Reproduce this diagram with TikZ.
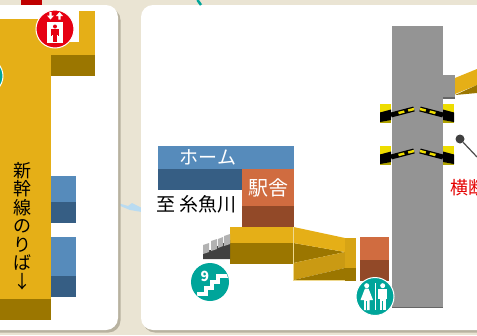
\documentclass[tikz,border=0pt]{standalone}
\usepackage{fontspec}
\setmainfont{Noto Sans CJK JP}
\definecolor{bg}{HTML}{EAE4D3}
\definecolor{shadow}{HTML}{B8B2A0}
\definecolor{gold}{HTML}{E5AF17}
\definecolor{golddk}{HTML}{9B7600}
\definecolor{goldmid}{HTML}{CA9A13}
\definecolor{goldedge}{HTML}{EFD98F}
\definecolor{bluel}{HTML}{568BBB}
\definecolor{blued}{HTML}{365E84}
\definecolor{orl}{HTML}{D06C40}
\definecolor{ord}{HTML}{924928}
\definecolor{grayp}{HTML}{949494}
\definecolor{grayd}{HTML}{666666}
\definecolor{teal}{HTML}{00A59A}
\definecolor{redm}{HTML}{E60012}
\definecolor{yel}{HTML}{EEDD00}
\definecolor{yeld}{HTML}{AFA200}
\definecolor{river}{HTML}{B9DBF1}
\tikzset{
  card/.style={fill=white,rounded corners=12pt},
  cardshadow/.style={fill=shadow,rounded corners=12pt},
  signcircle/.style={circle,draw=white,line width=1pt,minimum size=38pt,inner sep=0pt},
  barrier/.style={line width=5pt,draw=black},
  barrierdash/.style={line width=2.4pt,draw=yel,dash pattern=on 6pt off 4pt},
  lbl/.style={inner sep=0pt,text=black}
}
\begin{document}
\begin{tikzpicture}[x=1pt,y=-1pt]
\useasboundingbox (0,0) rectangle (477,335);
\clip (0,0) rectangle (477,335);
\fill[bg] (0,0) rectangle (477,335);
% river
\fill[river] (118,203) -- (128,206) -- (132,203) -- (142,208) -- (142,212) -- (130,210) -- (118,205) -- cycle;
% cards
\fill[cardshadow] (-20,8) rectangle (120.5,332.5);
\fill[cardshadow] (143,8) rectangle (500,332.5);
\fill[card] (-20,5) rectangle (118,330);
\fill[card] (141,5) rectangle (500,330);
% top stubs
\fill[red!75!black] (21,0) rectangle (42,5);
\draw[teal,line width=2.5pt] (197.5,0) -- (201,5);
% left panel: concourse
\fill[gold] (0,19) rectangle (51,299);
\fill[gold] (51,42) rectangle (95,55);
\fill[gold] (79,11) rectangle (95,55);
\fill[white] (51,19) rectangle (79,42);
\fill[golddk] (51,55) rectangle (95,76);
\fill[golddk] (0,299) rectangle (51,320);
% platforms left
\fill[bluel] (51,176) rectangle (76,202);
\fill[blued] (51,202) rectangle (76,223);
\fill[bluel] (51,237) rectangle (76,276);
\fill[blued] (51,276) rectangle (76,297);
% vertical label
\node[lbl,align=center,font=\fontsize{18}{18.5}\selectfont] (shinkansen) at (22,226) {新\\幹\\線\\の\\り\\ば\\↓};
% elevator sign
\node[signcircle,fill=redm] (elev) at (55,29) {};
\fill[white] (47,22) rectangle (63,43);
\fill[redm] (55,26.5) circle (2);
\fill[redm] (52,29) rectangle (58,35);
\fill[redm] (53,35) rectangle (57,42);
\fill[redm] (50.7,29) rectangle (51.8,36);
\fill[redm] (58.2,29) rectangle (59.3,36);
\fill[white] (50.5,19.5) -- (47,15.5) -- (49.3,15.5) -- (49.3,12) -- (51.7,12) -- (51.7,15.5) -- (54,15.5) -- cycle;
\fill[white] (59.5,12) -- (63,16) -- (60.7,16) -- (60.7,19.5) -- (58.3,19.5) -- (58.3,16) -- (56,16) -- cycle;
% teal sign cut off on left
\node[signcircle,fill=teal,minimum size=36pt] (lefts) at (-15,76) {};
% home / station
\fill[bluel] (158,146) rectangle (294,169);
\fill[blued] (158,169) rectangle (242,190);
\node[lbl,text=white,font=\fontsize{19}{19}\selectfont] (home) at (208,157) {ホーム};
\fill[orl] (242,169) rectangle (294,206);
\fill[ord] (242,206) rectangle (294,227);
\node[lbl,text=white,font=\fontsize{20}{20}\selectfont] (station) at (268,188) {駅舎};
\node[lbl,font=\fontsize{19}{19}\selectfont,anchor=west] (dest) at (156,204) {至 糸魚川};
% walkway and ramps
\fill[gold] (230,227) rectangle (294,243);
\fill[golddk] (230,243) rectangle (294,264);
\fill[golddk] (293.5,243) -- (345,252) -- (293.5,263) -- cycle;
\fill[gold] (293.5,227) -- (345,238) -- (345,252) -- (293.5,243) -- cycle;
\fill[goldmid] (293.5,263) -- (345,252) -- (345,268) -- (293.5,280) -- cycle;
\fill[golddk] (293.5,280) -- (345,268) -- (345,280.5) -- cycle;
\fill[goldmid!50!gold] (345,238) rectangle (356,268);
\fill[golddk] (345,268) rectangle (356,281);
\draw[goldedge,line width=.6pt] (293.5,227) -- (293.5,280.5) -- (345,280.5);
% steps
\fill[black!75] (203,259) -- (203,254) -- (209,250) -- (211,250) -- (217,246) -- (218,246) -- (223,243) -- (224,243) -- (230,240) -- (230,259) -- cycle;
\fill[black!30] (203,245) -- (209,243) -- (209,252) -- (203,254) -- cycle;
\fill[black!30] (211,241) -- (217,239) -- (217,249) -- (211,251) -- cycle;
\fill[black!30] (218,239) -- (223,237) -- (223,246) -- (218,248) -- cycle;
\fill[black!30] (224,236) -- (230,234) -- (230,244) -- (224,246) -- cycle;
% stairs sign
\node[signcircle,fill=teal,draw=none] (stairs) at (210,282) {};
\node[lbl,text=white,font=\fontsize{14}{14}\selectfont\bfseries] (nine) at (205,276.5) {9};
\begin{scope}
\clip (stairs) circle (18.5);
\draw[white,line width=3.4pt] (197,294) -- (206,294) -- (206,288) -- (212,288) -- (212,282) -- (218,282) -- (218,276) -- (230,276);
\end{scope}
% right small block
\fill[orl] (360,237) rectangle (389,260);
\fill[ord] (360,260) rectangle (389,281);
% gray tower
\fill[grayd] (392,26) rectangle (443,308);
\fill[grayp] (392,26) rectangle (443,306.5);
\fill[grayd] (443,75) rectangle (455,99);
\fill[grayp] (443,75) rectangle (455,97);
\fill[gold] (455,78) -- (477,69) -- (477,85) -- (455,94) -- cycle;
\fill[golddk] (477,85) -- (477,93) -- (455,95) -- cycle;
% gates
\foreach \yy in {0,42}{
  \fill[yel] (380,104+\yy) rectangle (391,112+\yy);
  \fill[yeld] (380,112+\yy) rectangle (391,123+\yy);
  \fill[black] (380,112.5+\yy) -- (391,109.5+\yy) -- (391,120+\yy) -- (380,122+\yy) -- cycle;
  \fill[yel] (443,104+\yy) rectangle (454,112+\yy);
  \fill[yeld] (443,112+\yy) rectangle (454,123+\yy);
  \fill[black] (443,109.5+\yy) -- (454,112.5+\yy) -- (454,122+\yy) -- (443,120+\yy) -- cycle;
  \draw[barrier] (391,115+\yy) -- (414,109+\yy);
  \draw[barrierdash] (414,109+\yy) -- (396,113.7+\yy);
  \draw[barrier] (420,109+\yy) -- (443,115+\yy);
  \draw[barrierdash] (420,109+\yy) -- (438,113.7+\yy);
}
% leader
\coordinate (leaderend) at (477,157);
\node[circle,fill=black!75,minimum size=9pt,inner sep=0pt] (leaderdot) at (460,139) {};
\draw[black!70,line width=1.2pt] (leaderdot) -- (leaderend);
\node[lbl,text=red!90!black,font=\fontsize{18}{18}\selectfont,anchor=west] (cross) at (450,188) {横断};
% toilet sign
\node[signcircle,fill=teal] (wc) at (375,296.5) {};
\fill[white] (374.8,283) rectangle (376,310);
\fill[white] (366.7,285.7) circle (2.5);
\fill[white] (365,288.5) -- (368.5,288.5) -- (373,300) -- (369.5,300) -- (369.5,310) -- (364,310) -- (364,300) -- (360.5,300) -- cycle;
\fill[white] (382.7,285.7) circle (2.5);
\fill[white] (378.2,288.5) rectangle (387.2,299);
\fill[white] (380,299) rectangle (385.5,310);
\draw[teal,line width=.6pt] (366.7,301) -- (366.7,310);
\draw[teal,line width=.6pt] (382.7,301) -- (382.7,310);
\end{tikzpicture}
\end{document}
